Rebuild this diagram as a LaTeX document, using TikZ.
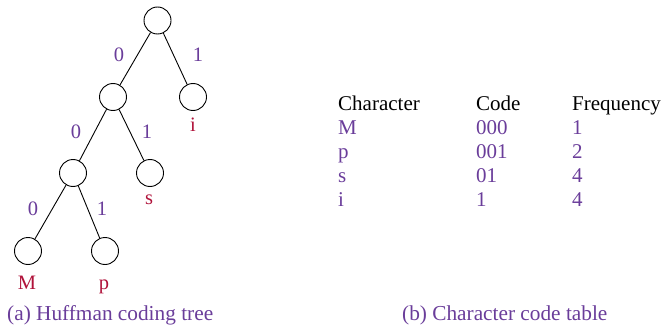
\documentclass[tikz,border=0pt]{standalone}
\usepackage{fontspec}
\setmainfont{Liberation Serif}
\definecolor{lblpurple}{HTML}{6A3D9A}
\definecolor{leafred}{HTML}{B0123A}
\begin{document}
\begin{tikzpicture}[x=1pt,y=-1pt,
  tnode/.style={circle,draw=black,line width=0.9pt,minimum size=27pt,inner sep=0pt},
  conn/.style={draw=black,line width=0.9pt},
  bit/.style={text=lblpurple,font=\fontsize{20.5}{24}\selectfont,inner sep=0pt},
  leaf/.style={anchor=base,text=leafred,font=\fontsize{20.5}{24}\selectfont,inner sep=0pt},
  cell/.style={anchor=base west,inner sep=0pt,font=\fontsize{21}{25}\selectfont},
  hcell/.style={cell,text=black},
  pcell/.style={cell,text=lblpurple},
  captext/.style={anchor=base west,inner sep=0pt,text=lblpurple,font=\fontsize{21.3}{25}\selectfont}]
\useasboundingbox (0,0) rectangle (663,326);
% tree nodes
\node[tnode] (root) at (157.5,20.5) {};
\node[tnode] (n0) at (113,97) {};
\node[tnode] (ni) at (193,97) {};
\node[tnode] (n00) at (73,173) {};
\node[tnode] (ns) at (150,173) {};
\node[tnode] (nM) at (28,251) {};
\node[tnode] (np) at (105,251) {};
% edges
\draw[conn] (root) -- (n0);
\draw[conn] (root) -- (ni);
\draw[conn] (n0) -- (n00);
\draw[conn] (n0) -- (ns);
\draw[conn] (n00) -- (nM);
\draw[conn] (n00) -- (np);
% bit labels
\node[bit] (b1) at (119,55) {0};
\node[bit] (b2) at (198,55) {1};
\node[bit] (b3) at (76,132) {0};
\node[bit] (b4) at (147,132) {1};
\node[bit] (b5) at (33,209) {0};
\node[bit] (b6) at (102,209) {1};
% leaf labels
\node[leaf] (li) at (193,131) {i};
\node[leaf] (ls) at (149,204) {s};
\node[leaf] (lM) at (27,289) {M};
\node[leaf] (lp) at (104,289) {p};
% table
\node[hcell] (h1) at (338,110.5) {Character};
\node[hcell] (h2) at (476,110.5) {Code};
\node[hcell] (h3) at (572,110.5) {Frequency};
\node[pcell] (r1a) at (338,134.5) {M};
\node[pcell] (r1b) at (476,134.5) {000};
\node[pcell] (r1c) at (572,134.5) {1};
\node[pcell] (r2a) at (338,158.5) {p};
\node[pcell] (r2b) at (476,158.5) {001};
\node[pcell] (r2c) at (572,158.5) {2};
\node[pcell] (r3a) at (338,182.5) {s};
\node[pcell] (r3b) at (476,182.5) {01};
\node[pcell] (r3c) at (572,182.5) {4};
\node[pcell] (r4a) at (338,206.5) {i};
\node[pcell] (r4b) at (476,206.5) {1};
\node[pcell] (r4c) at (572,206.5) {4};
% captions
\node[captext] (capa) at (7,320) {(a) Huffman coding tree};
\node[captext] (capb) at (402,320) {(b) Character code table};
\end{tikzpicture}
\end{document}
